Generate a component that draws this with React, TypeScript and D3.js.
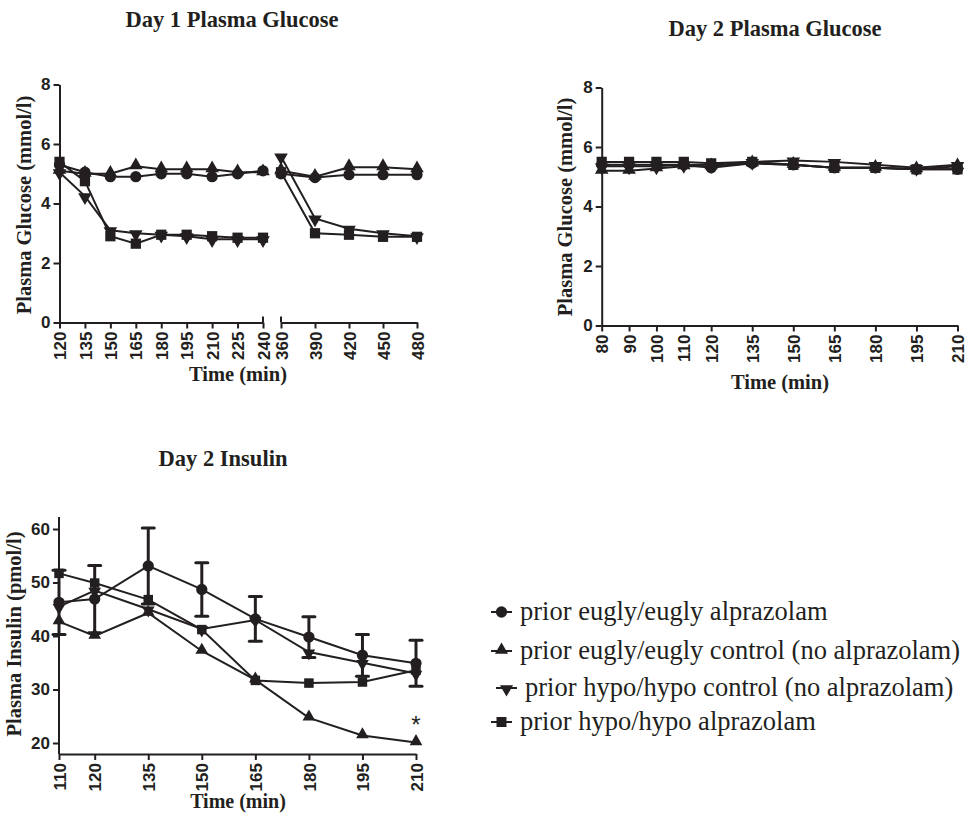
import { useEffect, useRef } from "react";
import * as d3 from "d3";

// ---- data ----
const seriesNames = [
  "prior eugly/eugly alprazolam",
  "prior eugly/eugly control (no alprazolam)",
  "prior hypo/hypo control (no alprazolam)",
  "prior hypo/hypo alprazolam",
];
const seriesSymbols = ["circle", "triUp", "triDown", "square"];

// Day 1 glucose: two segments (break between 240 and 360)
const day1Times = [120, 135, 150, 165, 180, 195, 210, 225, 240, 360, 390, 420, 450, 480];
const day1EuglyAlp = [5.3, 5.05, 4.9, 4.9, 5.0, 5.0, 4.9, 5.0, 5.1, 5.0, 4.87, 4.97, 4.97, 4.97];
const day1EuglyCtl = [5.1, 5.0, 5.0, 5.25, 5.15, 5.15, 5.15, 5.05, 5.05, 5.1, 4.9, 5.22, 5.22, 5.15];
const day1HypoCtl = [5.05, 4.25, 3.1, 3.0, 2.95, 2.9, 2.8, 2.8, 2.8, 5.58, 3.5, 3.15, 3.0, 2.9];
const day1HypoAlp = [5.4, 4.75, 2.9, 2.65, 2.95, 2.95, 2.9, 2.85, 2.85, 5.05, 3.0, 2.95, 2.88, 2.88];
const day1TicksA = [120, 135, 150, 165, 180, 195, 210, 225, 240];
const day1TicksB = [360, 390, 420, 450, 480];

// Day 2 glucose
const day2Times = [80, 90, 100, 110, 120, 135, 150, 165, 180, 195, 210];
const day2EuglyAlp = [5.4, 5.4, 5.4, 5.4, 5.3, 5.45, 5.4, 5.3, 5.3, 5.25, 5.25];
const day2EuglyCtl = [5.2, 5.2, 5.28, 5.35, 5.35, 5.45, 5.4, 5.3, 5.3, 5.25, 5.35];
const day2HypoCtl = [5.35, 5.35, 5.35, 5.4, 5.4, 5.5, 5.55, 5.5, 5.4, 5.3, 5.4];
const day2HypoAlp = [5.5, 5.5, 5.5, 5.5, 5.45, 5.5, 5.4, 5.3, 5.3, 5.25, 5.25];

const glucoseTicks = [0, 2, 4, 6, 8];

// Day 2 insulin
const insTimes = [110, 120, 135, 150, 165, 180, 195, 210];
const insEuglyAlp = [46.3, 46.9, 53.1, 48.7, 43.2, 39.8, 36.4, 34.9];
const insEuglyAlpErr = [6.0, 6.3, 7.1, 5.0, 4.2, 3.8, 3.9, 4.3];
const insEuglyCtl = [42.7, 40.0, 44.3, 37.2, 31.8, 24.7, 21.4, 20.1];
const insHypoCtl = [45.5, 48.5, 45.0, 41.3, 43.0, 37.0, 35.0, 33.0];
const insHypoAlp = [51.7, 49.9, 46.8, 41.2, 31.7, 31.2, 31.4, 33.6];
const insTicksY = [20, 30, 40, 50, 60];
const starTime = 210;
const starValue = 24.5;

const INK = "#231f20";
const SERIF = "'Liberation Serif', 'Times New Roman', serif";
const SANS = "'Liberation Sans', Arial, sans-serif";

export default function App() {
  const svgRef = useRef<SVGSVGElement>(null);

  useEffect(() => {
    if (!svgRef.current) return;
    const svg = d3.select(svgRef.current);
    svg.selectAll("*").remove();

    const symbolPath = (kind: string, size: number) => {
      const type =
        kind === "circle"
          ? d3.symbolCircle
          : kind === "square"
          ? d3.symbolSquare
          : d3.symbolTriangle;
      return d3.symbol().type(type).size(size)() as string;
    };

    const drawMarker = (
      g: any,
      kind: string,
      x: number,
      y: number,
      sizes: { circle: number; square: number; tri: number }
    ) => {
      const size =
        kind === "circle" ? sizes.circle : kind === "square" ? sizes.square : sizes.tri;
      const rot = kind === "triDown" ? " rotate(180)" : "";
      const dy = kind === "triUp" ? -1 : kind === "triDown" ? 1 : 0;
      g.append("path")
        .attr("d", symbolPath(kind, size))
        .attr("transform", `translate(${x},${y + dy})${rot}`)
        .attr("fill", INK);
    };

    const styleAxis = (g: any) => {
      g.select(".domain").attr("stroke", INK).attr("stroke-width", 2);
      g.selectAll(".tick line").attr("stroke", INK).attr("stroke-width", 2);
      g.selectAll(".tick text")
        .attr("fill", INK)
        .style("font-family", SANS)
        .style("font-weight", "bold")
        .style("font-size", "17px");
    };

    const rotateXLabels = (g: any) => {
      g.selectAll(".tick text")
        .attr("transform", "rotate(-90)")
        .attr("text-anchor", "end")
        .attr("x", -9)
        .attr("y", 0)
        .attr("dy", "0.36em");
    };

    const text = (
      x: number,
      y: number,
      s: string,
      size: number,
      opts: { bold?: boolean; rotate?: boolean; anchor?: string; family?: string } = {}
    ) => {
      const t = svg
        .append("text")
        .attr("x", opts.rotate ? 0 : x)
        .attr("y", opts.rotate ? 0 : y)
        .attr("fill", INK)
        .attr("text-anchor", opts.anchor ?? "middle")
        .style("font-family", opts.family ?? SERIF)
        .style("font-weight", opts.bold === false ? "normal" : "bold")
        .style("font-size", `${size}px`)
        .text(s);
      if (opts.rotate) t.attr("transform", `translate(${x},${y}) rotate(-90)`);
      return t;
    };

    const sizesBig = { circle: 100, square: 105, tri: 80 };

    // ---------- Day 1 Plasma Glucose ----------
    {
      const yAxisX = 59.5;
      const y = d3.scaleLinear().domain([0, 8]).range([322.5, 84.5]);
      const xA = d3.scaleLinear().domain([120, 240]).range([yAxisX, 263]);
      const xB = d3.scaleLinear().domain([360, 480]).range([281, 417]);
      const xOf = (t: number) => (t < 300 ? xA(t) : xB(t));

      const gy = svg
        .append("g")
        .attr("transform", `translate(${yAxisX},0)`)
        .call(d3.axisLeft(y).tickValues(glucoseTicks).tickSize(6).tickSizeOuter(0).tickPadding(3));
      styleAxis(gy);

      [
        { sc: xA, ticks: day1TicksA },
        { sc: xB, ticks: day1TicksB },
      ].forEach(({ sc, ticks }) => {
        const gx = svg
          .append("g")
          .attr("transform", `translate(0,${y(0)})`)
          .call(d3.axisBottom(sc).tickValues(ticks).tickSize(6).tickSizeOuter(0));
        styleAxis(gx);
        rotateXLabels(gx);
      });
      // break caps
      [xA(240), xB(360)].forEach((px) => {
        svg
          .append("line")
          .attr("x1", px)
          .attr("x2", px)
          .attr("y1", y(0) - 6)
          .attr("y2", y(0))
          .attr("stroke", INK)
          .attr("stroke-width", 2);
      });

      const all = [day1EuglyAlp, day1EuglyCtl, day1HypoCtl, day1HypoAlp];
      const g = svg.append("g");
      const line = d3
        .line<[number, number]>()
        .x((d) => xOf(d[0]))
        .y((d) => y(d[1]));
      all.forEach((vals) => {
        const pts = day1Times.map((t, i) => [t, vals[i]] as [number, number]);
        [pts.filter((p) => p[0] < 300), pts.filter((p) => p[0] > 300)].forEach((seg) => {
          g.append("path")
            .attr("d", line(seg))
            .attr("fill", "none")
            .attr("stroke", INK)
            .attr("stroke-width", 2);
        });
      });
      all.forEach((vals, si) => {
        day1Times.forEach((t, i) =>
          drawMarker(g, seriesSymbols[si], xOf(t), y(vals[i]), sizesBig)
        );
      });

      text(232, 27, "Day 1 Plasma Glucose", 22.5);
      text(238, 381, "Time (min)", 20.5);
      text(31, 205, "Plasma Glucose (mmol/l)", 20.5, { rotate: true });
    }

    // ---------- Day 2 Plasma Glucose ----------
    {
      const yAxisX = 601.7;
      const y = d3.scaleLinear().domain([0, 8]).range([325.5, 87.5]);
      const x = d3.scaleLinear().domain([80, 210]).range([yAxisX, 957.5]);

      const gy = svg
        .append("g")
        .attr("transform", `translate(${yAxisX},0)`)
        .call(d3.axisLeft(y).tickValues(glucoseTicks).tickSize(6).tickSizeOuter(0).tickPadding(3));
      styleAxis(gy);
      const gx = svg
        .append("g")
        .attr("transform", `translate(0,${y(0)})`)
        .call(d3.axisBottom(x).tickValues(day2Times).tickSize(6).tickSizeOuter(0));
      styleAxis(gx);
      rotateXLabels(gx);

      const all = [day2EuglyAlp, day2EuglyCtl, day2HypoCtl, day2HypoAlp];
      const g = svg.append("g");
      const line = d3
        .line<number>()
        .x((_, i) => x(day2Times[i]))
        .y((d) => y(d));
      all.forEach((vals) => {
        g.append("path")
          .attr("d", line(vals))
          .attr("fill", "none")
          .attr("stroke", INK)
          .attr("stroke-width", 2);
      });
      all.forEach((vals, si) => {
        vals.forEach((v, i) => drawMarker(g, seriesSymbols[si], x(day2Times[i]), y(v), sizesBig));
      });

      text(775, 36, "Day 2 Plasma Glucose", 22.5);
      text(780, 389, "Time (min)", 20.5);
      text(572, 207, "Plasma Glucose (mmol/l)", 20.5, { rotate: true });
    }

    // ---------- Day 2 Insulin ----------
    {
      const yAxisX = 59;
      const y = d3.scaleLinear().domain([20, 60]).range([743, 529]);
      const x = d3.scaleLinear().domain([110, 210]).range([yAxisX, 416]);
      const yBottom = 754;
      const yTop = 517;

      const gy = svg
        .append("g")
        .attr("transform", `translate(${yAxisX},0)`)
        .call(d3.axisLeft(y).tickValues(insTicksY).tickSize(6).tickSizeOuter(0).tickPadding(3));
      styleAxis(gy);
      gy.select(".domain").attr("d", `M0,${yTop}V${yBottom}`);
      const gx = svg
        .append("g")
        .attr("transform", `translate(0,${yBottom})`)
        .call(d3.axisBottom(x).tickValues(insTimes).tickSize(6).tickSizeOuter(0));
      styleAxis(gx);
      rotateXLabels(gx);

      const g = svg.append("g");
      // error bars (eugly alprazolam)
      insTimes.forEach((t, i) => {
        const cx = x(t);
        const lo = y(insEuglyAlp[i] - insEuglyAlpErr[i]);
        const hi = y(insEuglyAlp[i] + insEuglyAlpErr[i]);
        g.append("line")
          .attr("x1", cx)
          .attr("x2", cx)
          .attr("y1", lo)
          .attr("y2", hi)
          .attr("stroke", INK)
          .attr("stroke-width", 3);
        [lo, hi].forEach((yy) =>
          g
            .append("line")
            .attr("x1", cx - 6)
            .attr("x2", cx + 6)
            .attr("y1", yy)
            .attr("y2", yy)
            .attr("stroke", INK)
            .attr("stroke-width", 3)
            .attr("stroke-linecap", "round")
        );
      });

      const all = [insEuglyAlp, insEuglyCtl, insHypoCtl, insHypoAlp];
      const line = d3
        .line<number>()
        .x((_, i) => x(insTimes[i]))
        .y((d) => y(d));
      all.forEach((vals) => {
        g.append("path")
          .attr("d", line(vals))
          .attr("fill", "none")
          .attr("stroke", INK)
          .attr("stroke-width", 2);
      });
      const sizesIns = { circle: 100, square: 90, tri: 70 };
      all.forEach((vals, si) => {
        vals.forEach((v, i) => drawMarker(g, seriesSymbols[si], x(insTimes[i]), y(v), sizesIns));
      });

      text(x(starTime), y(starValue) + 14, "*", 24, { bold: false, family: SANS });

      text(223, 466, "Day 2 Insulin", 22.5);
      text(238, 808, "Time (min)", 20);
      text(21, 634, "Plasma Insulin (pmol/l)", 20.5, { rotate: true });
    }

    // ---------- Legend ----------
    {
      const rows = [612, 651, 688, 722];
      const indent = [0, 0, 5, 0];
      const g = svg.append("g");
      seriesNames.forEach((name, i) => {
        const lx = 491 + indent[i];
        const ly = rows[i];
        g.append("line")
          .attr("x1", lx)
          .attr("x2", lx + 21)
          .attr("y1", ly)
          .attr("y2", ly)
          .attr("stroke", INK)
          .attr("stroke-width", 2);
        drawMarker(g, seriesSymbols[i], lx + 10.5, ly, { circle: 100, square: 100, tri: 75 });
        g.append("text")
          .attr("x", lx + 29)
          .attr("y", ly + 8)
          .attr("fill", INK)
          .style("font-family", SERIF)
          .style("font-size", "26.5px")
          .text(name);
      });
    }
  }, []);

  return (
    <svg
      ref={svgRef}
      width={968}
      height={816}
      style={{ position: "absolute", left: 0, top: 0, background: "#fff" }}
    />
  );
}
